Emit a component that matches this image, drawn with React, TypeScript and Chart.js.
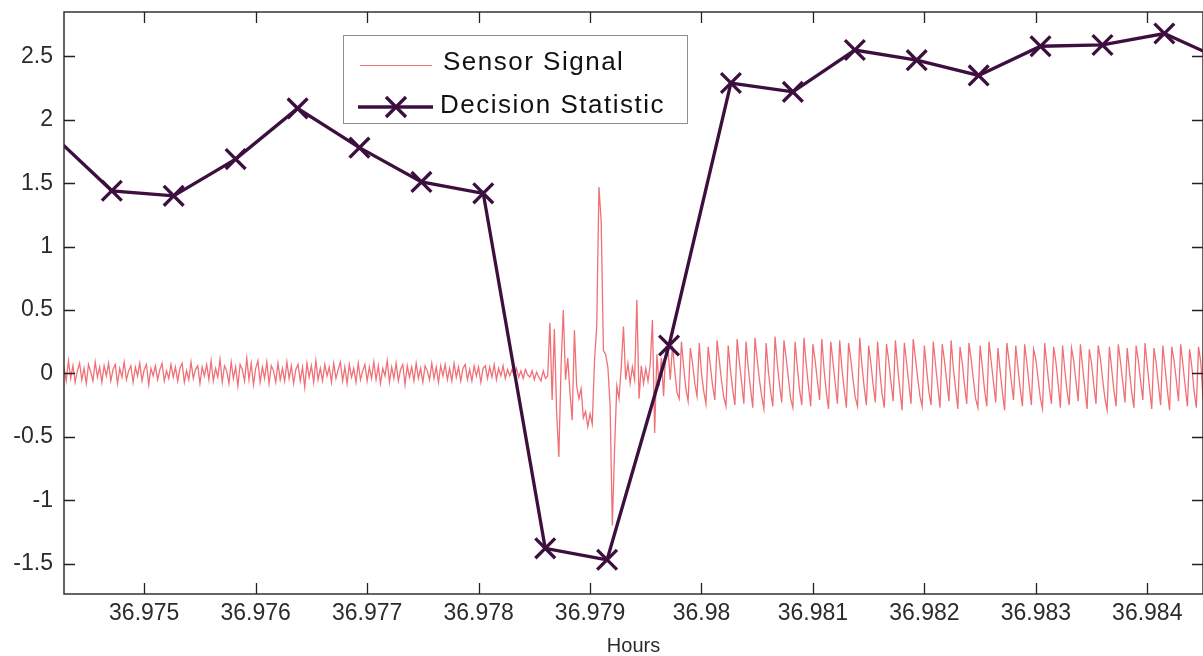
import React, { useEffect, useRef } from 'react';
import { Chart, registerables } from 'chart.js';

Chart.register(...registerables);

// ---- Decision statistic (one value every 2 s) ----
const DECISION_HOURS = [
  36.974153, 36.974709, 36.975264, 36.97582, 36.976376, 36.976931, 36.977487,
  36.978042, 36.978598, 36.979153, 36.979709, 36.980264, 36.98082, 36.981376,
  36.981931, 36.982487, 36.983042, 36.983598, 36.984153, 36.984709,
];
const DECISION_VALUES = [
  1.9, 1.44, 1.4, 1.69, 2.09, 1.78, 1.51, 1.42, -1.38, -1.47, 0.22, 2.29, 2.22,
  2.55, 2.47, 2.35, 2.58, 2.59, 2.68, 2.46,
];

// ---- Sensor signal (uniform sampling) ----
const SENSOR_START = 36.97428;
const SENSOR_STEP = 0.00002;

const SIGNAL_QUIET = [
  0.05, -0.06, 0.1, -0.04, 0.06, -0.07, 0.02, 0.08, -0.05, 0.04, -0.08, 0.07, 0.01, -0.06, 0.09, -0.03, 0.05, -0.07, 0.06, -0.02,
  0.08, -0.06, 0.03, 0.07, -0.08, 0.04, -0.03, 0.09, -0.05, 0.02, 0.06, -0.07, 0.05, -0.02, 0.08, -0.06, 0.03, 0.07, -0.09, 0.04,
  -0.02, 0.06, -0.05, 0.03, 0.08, -0.06, 0.02, -0.04, 0.07, -0.03, 0.05, -0.06, 0.04, 0.08, -0.07, 0.02, -0.05, 0.09, -0.04, 0.03,
  0.06, -0.08, 0.05, -0.02, 0.07, -0.05, 0.1, -0.06, 0.04, -0.03, 0.11, -0.07, 0.06, 0.02, -0.08, 0.09, -0.04, 0.05, -0.1, 0.07,
  0.03, -0.06, 0.12, -0.05, 0.08, -0.09, 0.04, 0.1, -0.07, 0.05, -0.04, 0.09, -0.08, 0.06, 0.02, -0.07, 0.08, -0.05, 0.04, -0.06,
  0.09, -0.04, 0.06, -0.08, 0.03, 0.07, -0.06, 0.05, -0.11, 0.08, -0.03, 0.06, -0.07, 0.1, -0.05, 0.04, -0.06, 0.07, -0.02, 0.05,
  -0.07, 0.08, -0.04, 0.03, 0.09, -0.06, 0.05, -0.08, 0.07, -0.03, 0.04, -0.07, 0.08, -0.05, 0.02, 0.07, -0.06, 0.05, -0.04, 0.09,
  -0.05, 0.06, -0.08, 0.04, -0.02, 0.1, -0.07, 0.05, -0.04, 0.08, -0.06, 0.03, 0.07, -0.09, 0.06, -0.03, 0.05, -0.06, 0.08, -0.04,
  0.04, -0.07, 0.06, 0.02, -0.05, 0.08, -0.04, 0.05, -0.07, 0.06, -0.02, 0.07, -0.05, 0.04, -0.06, 0.08, -0.03, 0.05, -0.06, 0.04,
  0.07, -0.05, 0.03, -0.06, 0.06, -0.02, 0.05, -0.07, 0.04, 0.06, -0.04, 0.05, -0.03, 0.07, -0.05, 0.04, -0.02, 0.06, -0.04, 0.03, -0.02,
];
const SIGNAL_SETTLE = [
  0.03, -0.02, 0.04, -0.03, 0.02, -0.04, 0.03, -0.01, -0.03, 0.02, -0.05, 0.01, -0.03, -0.06, 0.02, -0.04, -0.02,
];
const SIGNAL_BURST = [
  0.4, -0.21, 0.35, -0.3, -0.66, 0.05, 0.5, -0.05, 0.12, -0.15,
  -0.37, 0.34, -0.1, -0.2, -0.12, -0.35, -0.3, -0.42, -0.32, -0.4,
  0.1, 0.37, 1.47, 1.2, 0.18, 0.15, 0.05, -0.25, -1.2, -0.6,
  -0.1, -0.2, 0.05, 0.37, -0.05, 0.08, -0.08, 0.05, -0.05, 0.58,
  -0.2, 0.06, -0.08, 0.04, -0.06, 0.07, 0.42, -0.47, 0.15, -0.1,
  0.12, -0.18, 0.2,
];
const SIGNAL_ACTIVE = [
  0.18, -0.05, 0.22, 0.02, -0.15, -0.2, 0.25, 0.05, -0.12, -0.22, 0.2, 0.08, -0.08, -0.18, 0.24, 0.0, -0.14, -0.24, 0.21, 0.06,
  -0.1, -0.21, 0.26, 0.1, -0.06, -0.19, -0.26, 0.22, 0.03, -0.13, -0.25, 0.27, 0.09, -0.07, -0.24, 0.25, 0.04, -0.12, -0.27, 0.28,
  0.11, -0.05, -0.18, -0.28, 0.24, 0.02, -0.14, -0.26, 0.29, 0.08, -0.09, -0.23, 0.26, 0.12, -0.04, -0.2, -0.27, 0.25, 0.05, -0.13,
  -0.25, 0.28, 0.07, -0.1, -0.26, 0.23, 0.1, -0.06, -0.21, 0.27, 0.03, -0.15, -0.28, 0.25, 0.09, -0.08, -0.24, 0.26, 0.04, -0.12,
  -0.27, 0.24, 0.11, -0.05, -0.19, -0.26, 0.28, 0.06, -0.11, -0.25, 0.22, 0.08, -0.09, -0.23, 0.25, 0.02, -0.16, -0.27, 0.23, 0.1,
  -0.07, -0.22, 0.26, 0.05, -0.13, -0.29, 0.24, 0.09, -0.08, -0.24, 0.27, 0.12, -0.04, -0.18, -0.26, 0.22, 0.03, -0.14, -0.25, 0.25,
  0.07, -0.1, -0.27, 0.23, 0.1, -0.06, -0.22, 0.26, 0.04, -0.12, -0.28, 0.21, 0.08, -0.09, -0.24, 0.24, 0.11, -0.05, -0.2, -0.27,
  0.22, 0.05, -0.13, -0.26, 0.25, 0.09, -0.07, -0.23, 0.2, 0.02, -0.15, -0.29, 0.24, 0.1, -0.06, -0.21, 0.22, 0.04, -0.12, -0.26,
  0.23, 0.08, -0.09, -0.25, 0.19, 0.11, -0.04, -0.19, -0.28, 0.24, 0.06, -0.11, -0.24, 0.21, 0.09, -0.08, -0.27, 0.22, 0.03, -0.14,
  -0.25, 0.2, 0.1, -0.06, -0.22, 0.23, 0.05, -0.12, -0.28, 0.19, 0.08, -0.09, -0.24, 0.22, 0.11, -0.05, -0.2, -0.29, 0.21, 0.04,
  -0.13, -0.26, 0.23, 0.09, -0.07, -0.23, 0.2, 0.02, -0.15, -0.27, 0.22, 0.1, -0.06, -0.21, 0.24, 0.06, -0.11, -0.28, 0.2, 0.08,
  -0.09, -0.25, 0.22, 0.04, -0.13, -0.29, 0.21, 0.1, -0.05, -0.22, 0.23, 0.07, -0.1, -0.26, 0.19, 0.05, -0.14, -0.27, 0.21, 0.09,
  -0.2,
];

const X_TICKS = [36.975, 36.976, 36.977, 36.978, 36.979, 36.98, 36.981, 36.982, 36.983, 36.984];
const Y_TICKS = [-1.5, -1, -0.5, 0, 0.5, 1, 1.5, 2, 2.5];

const X_MIN = 36.97428;
const X_MAX = 36.9845;
const Y_MIN = -1.74;
const Y_MAX = 2.85;

const SENSOR_COLOR = 'rgb(240,112,118)';
const DECISION_COLOR = '#3d0f3f';
const AXIS_FONT = '"Liberation Sans", Arial, Helvetica, sans-serif';

const framePlugin = {
  id: 'matlabFrame',
  afterDatasetsDraw(chart: any) {
    const { ctx, chartArea: a, scales } = chart;
    ctx.save();
    ctx.strokeStyle = '#333';
    ctx.lineWidth = 1.5;
    ctx.strokeRect(a.left, a.top, a.right - a.left, a.bottom - a.top);
    ctx.lineWidth = 1.3;
    ctx.strokeStyle = '#222';
    ctx.beginPath();
    const L = 11;
    for (const v of X_TICKS) {
      const px = Math.round(scales.x.getPixelForValue(v)) + 0.5;
      ctx.moveTo(px, a.bottom);
      ctx.lineTo(px, a.bottom - L);
      ctx.moveTo(px, a.top);
      ctx.lineTo(px, a.top + L);
    }
    for (const v of Y_TICKS) {
      const py = Math.round(scales.y.getPixelForValue(v)) + 0.5;
      ctx.moveTo(a.left, py);
      ctx.lineTo(a.left + L, py);
      ctx.moveTo(a.right, py);
      ctx.lineTo(a.right - L, py);
    }
    ctx.stroke();
    ctx.restore();
  },
};

const legendPlugin = {
  id: 'boxLegend',
  afterDraw(chart: any) {
    const { ctx } = chart;
    const ds = chart.data.datasets;
    const sensor = ds[0];
    const decision = ds[1];
    ctx.save();
    ctx.fillStyle = '#ffffff';
    ctx.fillRect(343, 35, 344, 88);
    ctx.strokeStyle = '#8f8f8f';
    ctx.lineWidth = 1;
    ctx.strokeRect(343.5, 35.5, 344, 88);

    // sensor sample
    ctx.strokeStyle = sensor.borderColor;
    ctx.lineWidth = 1;
    ctx.beginPath();
    ctx.moveTo(360, 65.5);
    ctx.lineTo(432, 65.5);
    ctx.stroke();

    // decision sample
    ctx.strokeStyle = decision.borderColor;
    ctx.lineWidth = 3.3;
    ctx.beginPath();
    ctx.moveTo(358, 107);
    ctx.lineTo(433, 107);
    ctx.stroke();
    ctx.beginPath();
    const cx = 396, cy = 107, h = 10;
    ctx.moveTo(cx - h, cy - h);
    ctx.lineTo(cx + h, cy + h);
    ctx.moveTo(cx - h, cy + h);
    ctx.lineTo(cx + h, cy - h);
    ctx.stroke();

    ctx.fillStyle = '#111';
    ctx.font = '26px ' + AXIS_FONT;
    try { (ctx as any).letterSpacing = '1.5px'; } catch (e) {}
    ctx.textBaseline = 'alphabetic';
    ctx.textAlign = 'left';
    ctx.fillText(sensor.label, 443, 70);
    ctx.fillText(decision.label, 440, 113);
    ctx.restore();
  },
};

export default function App() {
  const canvasRef = useRef<HTMLCanvasElement | null>(null);

  useEffect(() => {
    document.body.style.margin = '0';
    const canvas = canvasRef.current;
    if (!canvas) return;

    const sensorValues = [...SIGNAL_QUIET, ...SIGNAL_SETTLE, ...SIGNAL_BURST, ...SIGNAL_ACTIVE];
    const sensorData = sensorValues.map((y, i) => ({ x: SENSOR_START + i * SENSOR_STEP, y }));
    const decisionData = DECISION_HOURS.map((x, i) => ({ x, y: DECISION_VALUES[i] }));

    const chart = new Chart(canvas, {
      type: 'line',
      data: {
        datasets: [
          {
            label: 'Sensor Signal',
            data: sensorData,
            borderColor: SENSOR_COLOR,
            borderWidth: 1.3,
            pointRadius: 0,
            tension: 0,
            fill: false,
            order: 1,
            clip: 0,
          },
          {
            label: 'Decision Statistic',
            data: decisionData,
            borderColor: DECISION_COLOR,
            backgroundColor: DECISION_COLOR,
            borderWidth: 3.3,
            pointStyle: 'crossRot',
            pointRadius: 14,
            pointBorderWidth: 3.3,
            pointBorderColor: DECISION_COLOR,
            tension: 0,
            fill: false,
            order: 0,
            clip: 0,
          },
        ],
      },
      options: {
        responsive: false,
        animation: false,
        events: [],
        layout: { autoPadding: false, padding: { top: 12, left: 0, right: 0, bottom: 0 } },
        plugins: {
          legend: { display: false },
          tooltip: { enabled: false },
        },
        scales: {
          x: {
            type: 'linear',
            position: 'bottom',
            min: X_MIN,
            max: X_MAX,
            grid: { display: false, drawTicks: false },
            border: { display: false },
            afterBuildTicks: (s: any) => {
              s.ticks = X_TICKS.map((v) => ({ value: v }));
            },
            afterFit: (s: any) => {
              s.height = 62;
              s.paddingLeft = 0;
              s.paddingRight = 0;
            },
            ticks: {
              autoSkip: false,
              maxRotation: 0,
              minRotation: 0,
              padding: 6,
              color: '#2b2b2b',
              font: { family: AXIS_FONT, size: 23 },
              callback: (v: any) => String(Number(Number(v).toFixed(3))),
            },
            title: {
              display: true,
              text: 'Hours',
              color: '#2b2b2b',
              font: { family: AXIS_FONT, size: 20, lineHeight: 1 },
              padding: { top: 0, bottom: 0 },
            },
          },
          y: {
            type: 'linear',
            position: 'left',
            min: Y_MIN,
            max: Y_MAX,
            grid: { display: false, drawTicks: false },
            border: { display: false },
            afterBuildTicks: (s: any) => {
              s.ticks = Y_TICKS.map((v) => ({ value: v }));
            },
            afterFit: (s: any) => {
              s.width = 64;
              s.paddingTop = 0;
              s.paddingBottom = 0;
            },
            ticks: {
              padding: 11,
              color: '#2b2b2b',
              font: { family: AXIS_FONT, size: 23 },
              callback: (v: any) => String(v),
            },
          },
        },
      },
      plugins: [framePlugin, legendPlugin],
    });

    return () => chart.destroy();
  }, []);

  return (
    <div style={{ width: 1203, height: 656 }}>
      <canvas ref={canvasRef} width={1203} height={656} style={{ display: 'block' }} />
    </div>
  );
}
